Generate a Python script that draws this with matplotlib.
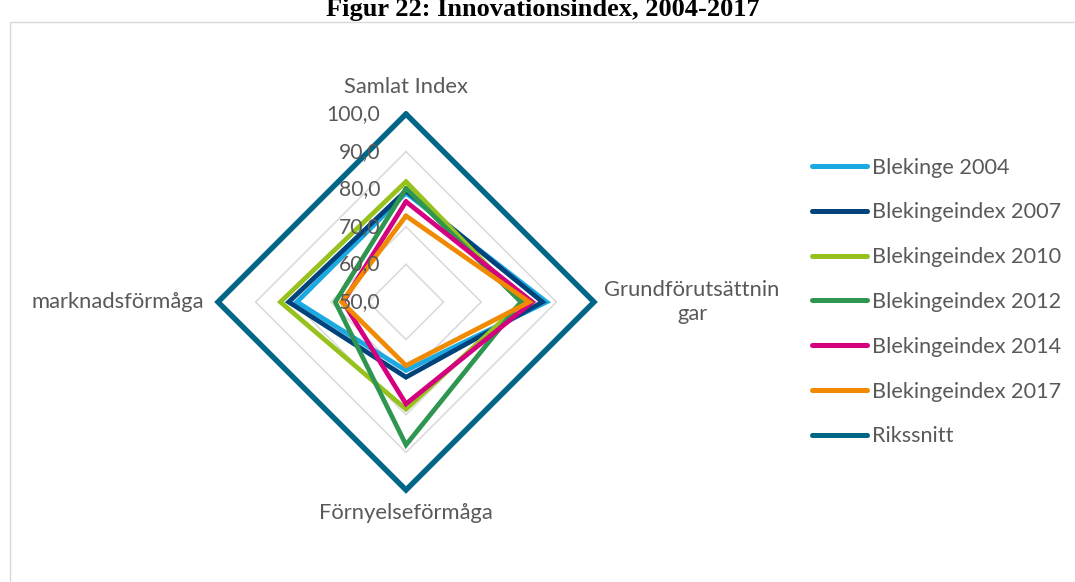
import numpy as np
import matplotlib
matplotlib.use("Agg")
import matplotlib.pyplot as plt
from matplotlib.patches import Rectangle

categories = ["Samlat Index", "Grundförutsättnin\ngar", "Förnyelseförmåga", "marknadsförmåga"]
series_names = ["Blekinge 2004", "Blekingeindex 2007", "Blekingeindex 2010",
                "Blekingeindex 2012", "Blekingeindex 2014", "Blekingeindex 2017", "Rikssnitt"]
blekinge_2004 = [79.0, 87.4, 68.2, 79.0]
blekinge_2007 = [79.6, 86.3, 70.0, 81.2]
blekinge_2010 = [82.0, 81.0, 78.5, 83.4]
blekinge_2012 = [80.2, 80.6, 88.0, 68.8]
blekinge_2014 = [76.7, 83.6, 77.1, 66.7]
blekinge_2017 = [72.9, 82.8, 66.9, 67.1]
rikssnitt = [100.0, 100.0, 100.0, 100.0]
series_values = [blekinge_2004, blekinge_2007, blekinge_2010, blekinge_2012,
                 blekinge_2014, blekinge_2017, rikssnitt]
colors = ["#1aa9e1", "#00427c", "#97c21e", "#2e9650", "#d5007f", "#f08a00", "#006688"]
r_ticks = [50, 60, 70, 80, 90, 100]
tick_labels = ["50,0", "60,0", "70,0", "80,0", "90,0", "100,0"]
title = "Figur 22: Innovationsindex, 2004-2017"

TXT = "#595959"
FONT = "Lato"

W, H = 1075, 582
fig = plt.figure(figsize=(W / 100, H / 100), dpi=100)

# border
fig.patches.append(Rectangle((10 / W, -0.1), 1.2, 1 - 22 / H + 0.1, transform=fig.transFigure,
                             fill=False, edgecolor="#d9d9d9", linewidth=1.0))
fig.text(543 / W, 1 - 16 / H, title, ha="center", va="baseline",
         family="Liberation Serif", weight="bold", fontsize=19, color="black")

cx, cy, R = 406, 302, 188
ax = fig.add_axes([(cx - R) / W, (H - cy - R) / H, 2 * R / W, 2 * R / H], projection="polar")
ax.set_theta_zero_location("N")
ax.set_theta_direction(-1)
ax.set_ylim(50, 100)
ax.grid(False)
ax.set_xticks([])
ax.set_yticks([])
ax.spines["polar"].set_visible(False)
ax.patch.set_alpha(0)

n = len(categories)
theta = np.arange(n) * 2 * np.pi / n
theta_c = np.append(theta, theta[0])

# polygon gridlines
for rv in r_ticks[1:]:
    ax.plot(theta_c, [rv] * (n + 1), color="#d9d9d9", lw=1.1, clip_on=False, zorder=1)

for name, vals, col in zip(series_names, series_values, colors):
    lw = 3.9 if name == "Rikssnitt" else 3.4
    v = list(vals) + [vals[0]]
    ax.plot(theta_c, v, color=col, lw=lw, label=name, clip_on=False,
            solid_joinstyle="miter", solid_capstyle="round", zorder=3)

# radial tick labels
for rv, lab in zip(r_ticks, tick_labels):
    ax.annotate(lab, xy=(0, rv), xytext=(-26, 0), textcoords="offset pixels",
                ha="right", va="center", fontsize=15.2, color=TXT, family=FONT,
                annotation_clip=False, zorder=5)

# category labels
offsets = [(0, 27, "center", "center"), (98, 0, "center", "center"),
           (0, -23, "center", "center"), (-14, 0, "right", "center")]
for th, cat, (dx, dy, ha, va) in zip(theta, categories, offsets):
    ax.annotate(cat, xy=(th, 100), xytext=(dx, dy), textcoords="offset pixels",
                ha=ha, va=va, fontsize=15.8, color=TXT, family=FONT,
                multialignment="center", annotation_clip=False, linespacing=1.25)

leg = fig.legend(loc="upper left", bbox_to_anchor=(792 / W, 1 - 138 / H), frameon=False,
                 handlelength=2.57, handletextpad=0.23, labelspacing=1.145,
                 prop={"family": FONT, "size": 15.6})
for t in leg.get_texts():
    t.set_color(TXT)
for l in leg.get_lines():
    l.set_linewidth(3.6)
    l.set_solid_capstyle("round")

fig.savefig("out.png", dpi=100)
